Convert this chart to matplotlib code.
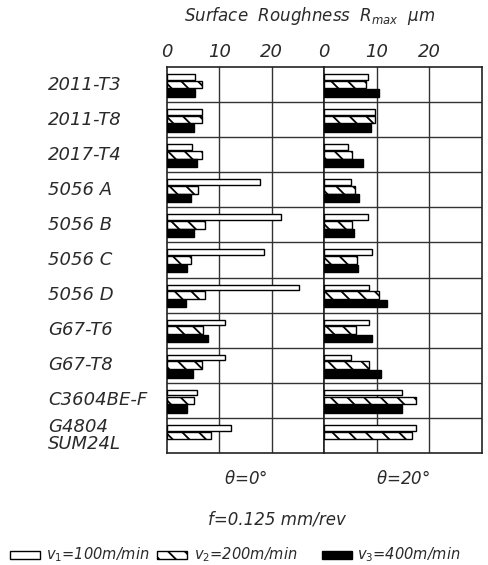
import numpy as np
import matplotlib
matplotlib.use("Agg")
import matplotlib.pyplot as plt
from matplotlib.patches import Rectangle

plt.rcParams["font.family"] = ["DejaVu Sans"]
plt.rcParams["mathtext.fontset"] = "dejavusans"
plt.rcParams["hatch.linewidth"] = 1.3

materials = ["2011-T3", "2011-T8", "2017-T4", "5056 A", "5056 B", "5056 C",
             "5056 D", "G67-T6", "G67-T8", "C3604BE-F", "G4804\nSUM24L"]

# theta = 0 deg
v1_deg0 = [5.3, 6.6, 4.8, 17.7, 21.7, 18.5, 25.2, 11.1, 11.0, 5.8, 12.3]
v2_deg0 = [6.7, 6.7, 6.7, 6.0, 7.3, 4.6, 7.3, 6.9, 6.6, 5.1, 8.5]
v3_deg0 = [5.3, 5.2, 5.8, 4.5, 5.1, 3.8, 3.6, 7.8, 5.0, 3.9, np.nan]

# theta = 20 deg
v1_deg20 = [8.3, 9.7, 4.5, 5.1, 8.3, 9.1, 8.6, 8.5, 5.2, 14.8, 17.5]
v2_deg20 = [7.9, 9.7, 5.4, 5.9, 5.4, 6.2, 10.4, 6.1, 8.5, 17.4, 16.7]
v3_deg20 = [10.4, 8.9, 7.4, 6.7, 5.7, 6.5, 12.0, 9.2, 10.8, 14.9, np.nan]

x_ticks = [0, 10, 20]
panel_titles = [r"$\theta$=0°", r"$\theta$=20°"]
legend_labels = [r"$v_1$=100m/min", r"$v_2$=200m/min", r"$v_3$=400m/min"]

TXT = "#2a2a2a"
W, H = 488, 565

fig = plt.figure(figsize=(W / 100, H / 100), dpi=100)


def px_axes(x0, y0, x1, y1):
    return fig.add_axes([x0 / W, 1 - y1 / H, (x1 - x0) / W, (y1 - y0) / H])


ax_l = px_axes(167, 67, 324, 453)
ax_r = px_axes(324, 67, 482, 453)

n = len(materials)
rows = np.arange(n)
styles = [
    dict(facecolor="white", edgecolor="black", hatch=None, off=0.28, h=0.16),
    dict(facecolor="white", edgecolor="black", hatch="\\\\", off=0.50, h=0.22),
    dict(facecolor="black", edgecolor="black", hatch=None, off=0.74, h=0.22),
]

for ax, series, title in [(ax_l, [v1_deg0, v2_deg0, v3_deg0], panel_titles[0]),
                          (ax_r, [v1_deg20, v2_deg20, v3_deg20], panel_titles[1])]:
    for vals, st in zip(series, styles):
        vals = np.asarray(vals, dtype=float)
        ok = ~np.isnan(vals)
        ax.barh(rows[ok] + st["off"], vals[ok], height=st["h"], left=0,
                facecolor=st["facecolor"], edgecolor=st["edgecolor"],
                hatch=st["hatch"], linewidth=1.0, zorder=3)
    ax.set_xlim(0, 30)
    ax.set_ylim(n, 0)
    for x in x_ticks[1:]:
        ax.axvline(x, color="#333333", lw=1.0, zorder=1)
    for r in range(1, n):
        ax.axhline(r, color="#333333", lw=1.0, zorder=1)
    for s in ax.spines.values():
        s.set_linewidth(1.2)
        s.set_color("#222222")
    ax.set_yticks([])
    ax.xaxis.tick_top()
    ax.set_xticks(x_ticks)
    ax.set_xticklabels([str(t) for t in x_ticks], fontsize=13, style="italic",
                       color=TXT)
    ax.tick_params(axis="x", length=0, pad=4)
    ax.text(0.5, -0.045, title, transform=ax.transAxes, ha="center", va="top",
            fontsize=12, style="italic", color=TXT)

# material labels
for i, name in enumerate(materials):
    y = 67 + (i + 0.5) * (453 - 67) / n
    fig.text(48 / W, 1 - y / H, name, ha="left", va="center", fontsize=13,
             style="italic", color=TXT, linespacing=0.95)

fig.text(310 / W, 1 - 16 / H, r"Surface  Roughness  $R_{max}$  $\mu$m",
         ha="center", va="center", fontsize=12, style="italic", color=TXT)

fig.text(277 / W, 1 - 520 / H, "f=0.125 mm/rev", ha="center", va="center",
         fontsize=12, style="italic", color=TXT)

# legend row
box_x = [10, 157, 322]
text_x = [46, 194, 357]
ly = 555
for bx, tx, st, lab in zip(box_x, text_x, styles, legend_labels):
    fig.patches.append(Rectangle((bx / W, 1 - (ly + 4) / H), 30 / W, 8 / H,
                                 transform=fig.transFigure,
                                 facecolor=st["facecolor"], edgecolor="black",
                                 hatch=st["hatch"], linewidth=1.0))
    fig.text(tx / W, 1 - ly / H, lab, ha="left", va="center", fontsize=10.5,
             style="italic", color=TXT)

fig.savefig("out.png", dpi=100)
